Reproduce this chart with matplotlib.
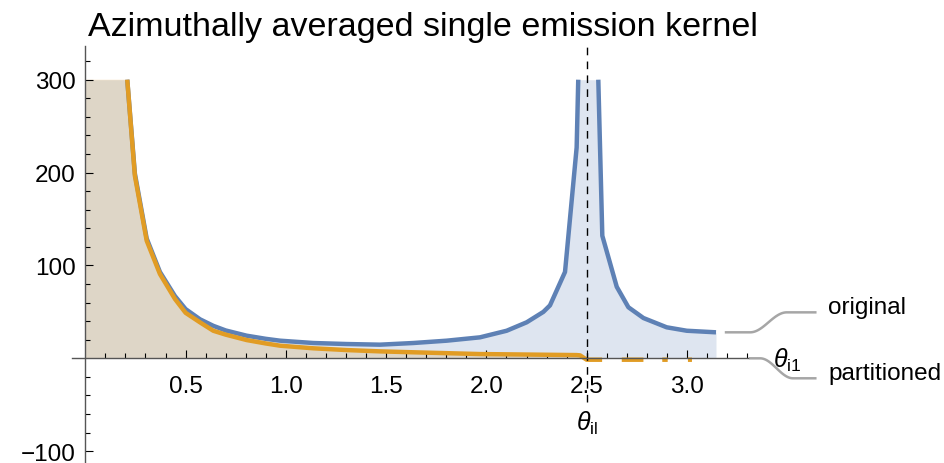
import numpy as np
import matplotlib.pyplot as plt

plt.rcParams['font.family'] = ['Liberation Sans', 'DejaVu Sans']
plt.rcParams['mathtext.fontset'] = 'custom'
plt.rcParams['mathtext.rm'] = 'Liberation Sans'
plt.rcParams['mathtext.it'] = 'Liberation Sans:italic'

# values (inf = above the plot range)
theta_orig = [0.0, 0.209, 0.247, 0.306, 0.372, 0.447, 0.5, 0.572, 0.638, 0.7, 0.804,
              0.9, 0.971, 1.137, 1.303, 1.469, 1.636, 1.802, 1.968, 2.101, 2.201,
              2.284, 2.317, 2.392, 2.450, 2.458, 2.508, 2.558, 2.578, 2.650, 2.708,
              2.783, 2.899, 2.999, 3.145]
original = [np.inf, 300, 199, 129, 93, 67, 53, 42, 35, 30, 24.4,
            21, 19, 16.5, 15.4, 14.7, 16.5, 19, 22.6, 29.7, 38.8,
            50, 57, 93, 227, 300, np.inf, 300, 132, 77, 55,
            43.4, 33.4, 29.7, 28]

theta_part = [0.0, 0.209, 0.247, 0.306, 0.372, 0.447, 0.5, 0.572, 0.638, 0.7, 0.804,
              0.9, 0.971, 1.137, 1.303, 1.469, 1.636, 1.968, 2.450, 2.467, 2.500,
              2.577, 2.62, 2.675, 2.783, 2.83, 2.877, 2.904, 2.95, 3.005, 3.025, 3.08]
partitioned = [np.inf, 300, 196.6, 126.6, 90.8, 63.9, 49, 38.7, 29.7, 25.5, 19.7,
               16, 13.6, 10.8, 8.9, 7.5, 6.5, 4.6, 3.5, 3.2, -1.5,
               -1.5, np.nan, -1.5, -1.5, np.nan, -1.5, -1.5, np.nan, -1.5, -1.5, np.nan]

theta_il = 2.5
y_top = 300  # plot range clip

blue = '#5E81B5'
orange = '#E19C24'

fig = plt.figure(figsize=(9.45, 4.64), dpi=100)
ax = fig.add_axes([71.7/945, 0, (747.7-71.7)/945, (464-46.7)/464])
ax.set_xlim(-0.068, 3.303)
ax.set_ylim(-112.7, 336.6)

for xs, ys, c in [(theta_orig, original, blue), (theta_part, partitioned, orange)]:
    xs = np.array(xs)
    ys = np.array(ys, dtype=float)
    ax.fill_between(xs, np.minimum(ys, y_top), 0, color=c, alpha=0.2, lw=0)
    line = np.where(np.isinf(ys), np.nan, ys)
    ax.plot(xs, line, color=c, lw=3.2, solid_capstyle='butt', solid_joinstyle='round')

ax.plot([theta_il, theta_il], [-47, 336.6], color='black', lw=1, dashes=(5.5, 4.5), clip_on=False)

# axes through the origin
for s in ['top', 'right']:
    ax.spines[s].set_visible(False)
ax.spines['left'].set_position(('data', 0))
ax.spines['bottom'].set_position(('data', 0))
for s in ['left', 'bottom']:
    ax.spines[s].set_color('#555555')
    ax.spines[s].set_linewidth(1.0)

ax.set_xticks([0.5, 1.0, 1.5, 2.0, 2.5, 3.0])
ax.set_xticklabels(['0.5', '1.0', '1.5', '2.0', '2.5', '3.0'])
ax.set_xticks(np.arange(0.1, 3.31, 0.1), minor=True)
ax.set_yticks([-100, 100, 200, 300])
ax.set_yticklabels(['\u2212100', '100', '200', '300'])
ax.set_yticks([v for v in range(-100, 321, 20) if v != 0], minor=True)
ax.tick_params(which='both', direction='in', color='black', width=0.8, labelsize=17.5)
ax.tick_params(which='major', length=5.5)
ax.tick_params(which='minor', length=3.8)
ax.tick_params(axis='x', which='major', pad=12)
ax.tick_params(axis='y', which='major', pad=7)

# axis labels
ax.text(3.428, -9.4, r'$\theta_{\mathrm{i1}}$', fontsize=18, ha='left', va='baseline')
ax.text(theta_il, -77, r'$\theta_{\mathrm{il}}$', fontsize=18, ha='center', va='baseline')

# legend callouts
def callout(x0, y0, x1, x2, y2, x3):
    t = np.linspace(0, 1, 40)
    xs = np.concatenate([[x0], x1 + (x2 - x1) * t, [x3]])
    ys = np.concatenate([[y0], y0 + (y2 - y0) * (1 - np.cos(np.pi * t)) / 2, [y2]])
    ax.plot(xs, ys, color='#A6A6A6', lw=1.8, clip_on=False)

callout(theta_orig[-1] + 0.05, original[-1], 3.315, 3.498, 49.5, 3.64)
callout(3.315, 0, 3.365, 3.529, -21.5, 3.64)
ax.text(3.704, 48.8, 'original', fontsize=17.5, va='baseline')
ax.text(3.704, -22.3, 'partitioned', fontsize=17.5, va='baseline')

fig.text(88/945, 1 - 36/464, 'Azimuthally averaged single emission kernel',
         fontsize=24.5, ha='left', va='baseline')

fig.savefig('out.png', dpi=100)
